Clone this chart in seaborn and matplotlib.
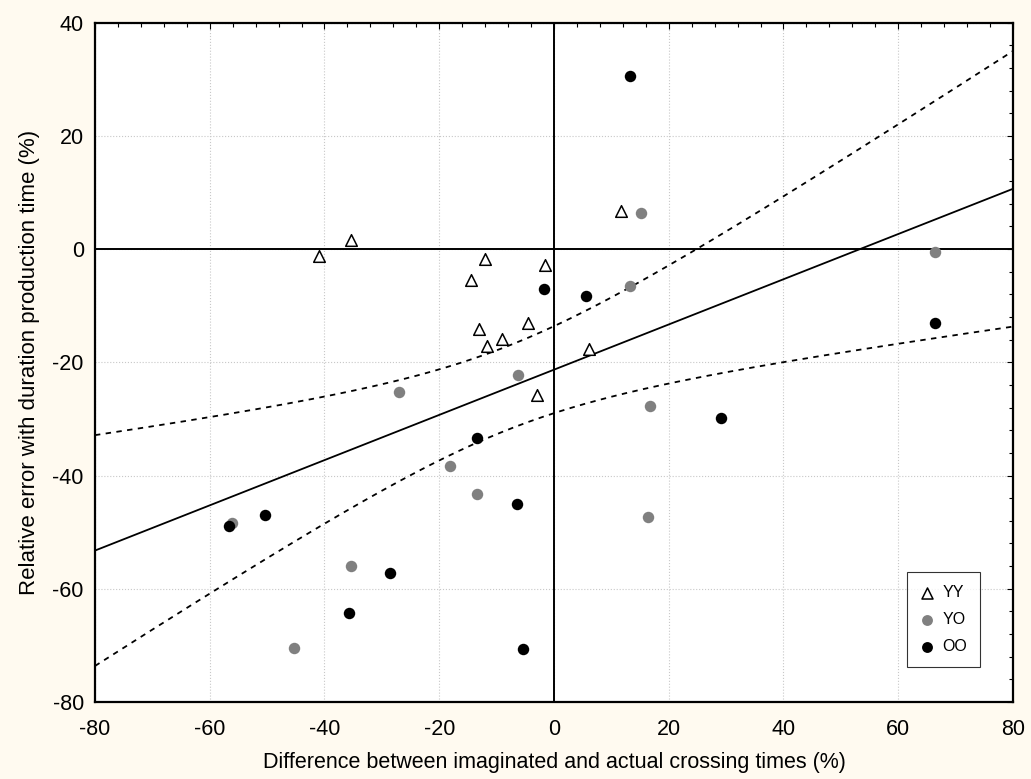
import matplotlib
matplotlib.use("Agg")
import matplotlib.pyplot as plt
from matplotlib.ticker import MultipleLocator
import seaborn as sns
import numpy as np
import pandas as pd

# data
yy_x = [-41.0, -35.4, -12.1, -14.5, -1.5, -13.1, -11.7, -9.1, -4.6, -2.9, 6.1, 11.6]
yy_y = [-1.3, 1.6, -1.8, -5.5, -2.8, -14.2, -17.1, -15.9, -13.1, -25.8, -17.7, 6.7]

yo_x = [13.3, 15.1, 66.4, -6.3, -27.0, -18.1, -13.4, -56.2, -35.4, -45.3, 16.7, 16.4]
yo_y = [-6.6, 6.3, -0.6, -22.3, -25.2, -38.4, -43.2, -48.4, -56.0, -70.5, -27.8, -47.3]

oo_x = [13.3, -1.8, 5.6, 66.4, -13.4, -6.5, 29.2, -5.4, -50.3, -56.6, -28.6, -35.7]
oo_y = [30.5, -7.1, -8.2, -13.0, -33.4, -45.0, -29.8, -70.7, -47.0, -49.0, -57.3, -64.2]

groups = ["YY", "YO", "OO"]

df = pd.DataFrame({
    "x": yy_x + yo_x + oo_x,
    "y": yy_y + yo_y + oo_y,
    "group": ["YY"] * len(yy_x) + ["YO"] * len(yo_x) + ["OO"] * len(oo_x),
})

sns.set_style("white")
plt.rcParams["font.family"] = ["Liberation Sans", "DejaVu Sans"]
plt.rcParams["axes.unicode_minus"] = False
plt.rcParams["text.color"] = "black"
plt.rcParams["axes.labelcolor"] = "black"
plt.rcParams["xtick.color"] = "black"
plt.rcParams["ytick.color"] = "black"

cream = "#fffaf0"
fig = plt.figure(figsize=(10.31, 7.79), dpi=100, facecolor=cream)
ax = fig.add_axes([0.0921, 0.0989, 0.8904, 0.872])
ax.set_facecolor("white")

# linear fit with 95% confidence band
x = df["x"].values
y = df["y"].values
n = len(x)
slope, intercept = np.polyfit(x, y, 1)
resid = y - (slope * x + intercept)
s = np.sqrt(np.sum(resid ** 2) / (n - 2))
t_crit = 2.032  # t(0.975, df=34)
xs = np.linspace(-80, 80, 200)
fit = slope * xs + intercept
se = s * np.sqrt(1.0 / n + (xs - x.mean()) ** 2 / np.sum((x - x.mean()) ** 2))

ax.axhline(0, color="black", lw=1.4, zorder=2)
ax.axvline(0, color="black", lw=1.4, zorder=2)
sns.lineplot(x=xs, y=fit, ax=ax, color="black", lw=1.3, zorder=3)
sns.lineplot(x=xs, y=fit + t_crit * se, ax=ax, color="black", lw=1.3,
             linestyle=(0, (3, 3)), zorder=3)
sns.lineplot(x=xs, y=fit - t_crit * se, ax=ax, color="black", lw=1.3,
             linestyle=(0, (3, 3)), zorder=3)

styles = {
    "YY": dict(marker="^", facecolor="white", edgecolor="black", linewidth=1.1, s=70),
    "YO": dict(marker="o", color="#808080", edgecolor="#808080", linewidth=0, s=68),
    "OO": dict(marker="o", color="black", edgecolor="black", linewidth=0, s=68),
}
for g in groups:
    sub = df[df["group"] == g]
    sns.scatterplot(data=sub, x="x", y="y", ax=ax, label=g, zorder=4, **styles[g])

ax.set_xlim(-80, 80)
ax.set_ylim(-80, 40)
ax.xaxis.set_major_locator(MultipleLocator(20))
ax.xaxis.set_minor_locator(MultipleLocator(4))
ax.yaxis.set_major_locator(MultipleLocator(20))
ax.yaxis.set_minor_locator(MultipleLocator(4))
ax.tick_params(which="both", direction="in", top=True, right=True,
               labelsize=15.5, color="black", labelcolor="black", width=0.8)
ax.tick_params(which="major", length=4)
ax.tick_params(which="minor", length=3)
ax.tick_params(axis="x", which="major", pad=12)
ax.tick_params(axis="y", which="major", pad=8)
ax.grid(True, which="major", color="#c8c8c8", linestyle=":", lw=0.8)
ax.set_axisbelow(True)
for sp in ax.spines.values():
    sp.set_color("black")
    sp.set_linewidth(1.6)

ax.set_xlabel("Difference between imaginated and actual crossing times (%)", fontsize=15.5, labelpad=9)
ax.set_ylabel("Relative error with duration production time (%)", fontsize=16, labelpad=9)

leg = ax.legend(loc="lower right", bbox_to_anchor=(0.964, 0.0515), frameon=True,
                fancybox=False, shadow=False, fontsize=11.5, handletextpad=0.5,
                borderpad=0.8, labelspacing=0.75, handlelength=0.9,
                borderaxespad=0, markerscale=0.95)
leg.get_frame().set_edgecolor("black")
leg.get_frame().set_linewidth(0.8)

fig.savefig("out.png", dpi=100, facecolor=cream)
